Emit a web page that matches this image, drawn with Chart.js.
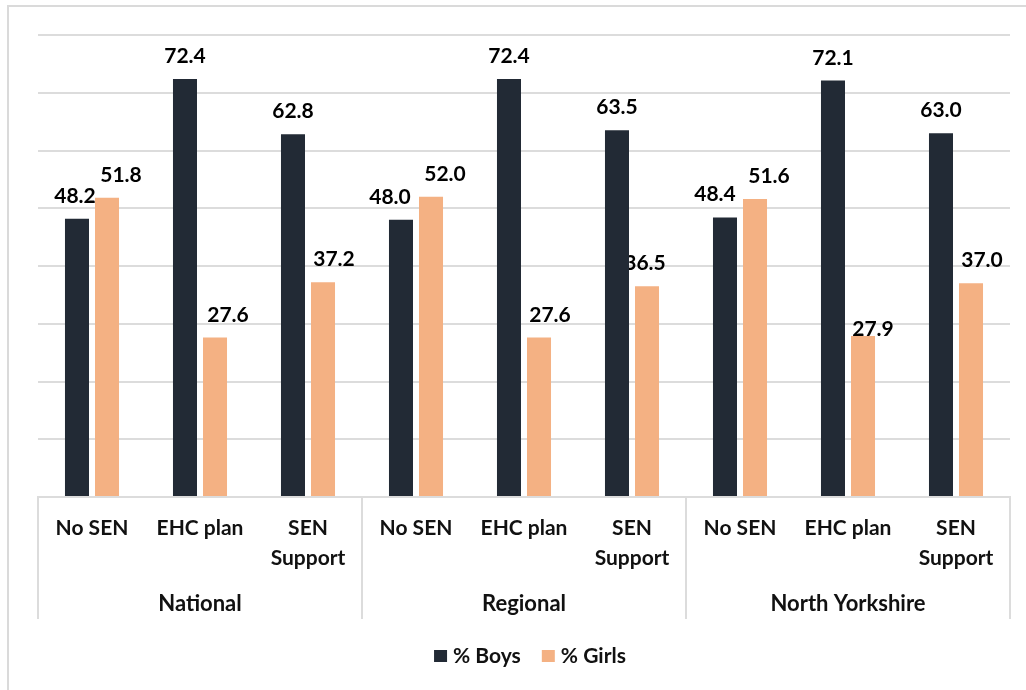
<!DOCTYPE html>
<html>
<head>
<meta charset="utf-8">
<script src="https://cdn.jsdelivr.net/npm/chart.js@4.4.0/dist/chart.umd.min.js"></script>
<style>
  html, body { margin: 0; padding: 0; background: #fff; }
  #wrap { position: relative; width: 1026px; height: 690px; overflow: hidden; }
  #frame { position: absolute; left: 7px; top: 5px; width: 1040px; height: 720px; border: 2px solid #dadada; }
  canvas { position: absolute; left: 0; top: 0; }
</style>
</head>
<body>
<div id="wrap">
  <div id="frame"></div>
  <canvas id="senChart" width="1026" height="690"></canvas>
</div>
<script>
// --- data ---
const groups = ['National', 'Regional', 'North Yorkshire'];
const categories = ['No SEN', 'EHC plan', ['SEN', 'Support'],
                    'No SEN', 'EHC plan', ['SEN', 'Support'],
                    'No SEN', 'EHC plan', ['SEN', 'Support']];
const seriesNames = ['% Boys', '% Girls'];
const boys  = [48.2, 72.4, 62.8, 48.0, 72.4, 63.5, 48.4, 72.1, 63.0];
const girls = [51.8, 27.6, 37.2, 52.0, 27.6, 36.5, 51.6, 27.9, 37.0];
const yMin = 0, yMax = 80, yStep = 10;

// label nudges (px), the way they sit in the original
const labelDx = [
  [-2, 0, 0, -11, 0, 0, -10, 0, 0],
  [14, 13, 11, 14, 11, -2, 14, 10, 11]
];
const labelDy = [
  [-16, -16, -16, -16, -16, -16, -16, -16, -16],
  [-16, -16, -16, -16, -16, -16, -16, 0, -16]
];

const colors = ['#222a35', '#f4b183'];
const gridColor = '#dcdcdc';
const FONT = 'Lato';

// value labels, drawn right after each dataset so the later (front) bars can cover them
const valueLabels = {
  id: 'valueLabels',
  afterDatasetDraw(chart, args) {
    const ctx = chart.ctx;
    const ds = chart.data.datasets[args.index];
    ctx.save();
    ctx.font = `bold 21px ${FONT}`;
    ctx.fillStyle = '#000';
    ctx.textAlign = 'center';
    ctx.textBaseline = 'alphabetic';
    args.meta.data.forEach((bar, i) => {
      ctx.fillText(ds.data[i].toFixed(1), bar.x + labelDx[args.index][i], bar.y + labelDy[args.index][i]);
    });
    ctx.restore();
  }
};

// group separators, group names and the legend
const groupAxis = {
  id: 'groupAxis',
  afterDraw(chart) {
    const ctx = chart.ctx;
    const x = chart.scales.x;
    const step = x.getPixelForValue(1) - x.getPixelForValue(0);
    const per = categories.length / groups.length;
    const top = chart.chartArea.bottom;
    ctx.save();
    ctx.strokeStyle = gridColor;
    ctx.lineWidth = 2;
    for (let g = 0; g <= groups.length; g++) {
      const px = Math.round(x.getPixelForValue(0) - step / 2 + g * per * step);
      ctx.beginPath();
      ctx.moveTo(px, top);
      ctx.lineTo(px, top + 122);
      ctx.stroke();
    }
    ctx.font = `bold 22px ${FONT}`;
    ctx.fillStyle = '#111';
    ctx.textAlign = 'center';
    ctx.textBaseline = 'middle';
    groups.forEach((name, g) => {
      ctx.fillText(name, x.getPixelForValue(g * per + (per - 1) / 2), top + 107);
    });

    // legend
    ctx.font = `bold 21px ${FONT}`;
    ctx.textAlign = 'left';
    const boxW = 13, boxH = 12, gapBox = 6, gapItem = 21;
    const widths = seriesNames.map(n => boxW + gapBox + ctx.measureText(n).width);
    const total = widths.reduce((a, b) => a + b, 0) + gapItem * (seriesNames.length - 1);
    let lx = 530 - total / 2;
    const ly = 656;
    seriesNames.forEach((n, i) => {
      ctx.fillStyle = colors[i];
      ctx.fillRect(lx, ly - boxH / 2, boxW, boxH);
      ctx.fillStyle = '#111';
      ctx.fillText(n, lx + boxW + gapBox, ly);
      lx += widths[i] + gapItem;
    });
    ctx.restore();
  }
};

new Chart(document.getElementById('senChart'), {
  type: 'bar',
  data: {
    labels: categories,
    datasets: [
      { label: seriesNames[0], data: boys, backgroundColor: colors[0], borderWidth: 0,
        categoryPercentage: 0.556, barPercentage: 0.8 },
      { label: seriesNames[1], data: girls, backgroundColor: colors[1], borderWidth: 0,
        categoryPercentage: 0.556, barPercentage: 0.8 }
    ]
  },
  options: {
    responsive: false,
    animation: false,
    devicePixelRatio: 1,
    layout: { padding: { left: 38, right: 16, top: 35, bottom: 68 } },
    plugins: { legend: { display: false }, tooltip: { enabled: false } },
    scales: {
      x: {
        grid: { display: false, drawTicks: false },
        border: { display: true, color: gridColor, width: 2 },
        ticks: {
          autoSkip: false, maxRotation: 0, padding: 16, color: '#111',
          font: { family: FONT, size: 21, weight: 'bold', lineHeight: 1.43 }
        },
        afterFit(scale) { scale.height = 125; }
      },
      y: {
        min: yMin, max: yMax,
        ticks: { display: false, stepSize: yStep },
        grid: { color: gridColor, lineWidth: 2, drawTicks: false },
        border: { display: false },
        afterFit(scale) { scale.width = 0; }
      }
    }
  },
  plugins: [valueLabels, groupAxis]
});
</script>
</body>
</html>
